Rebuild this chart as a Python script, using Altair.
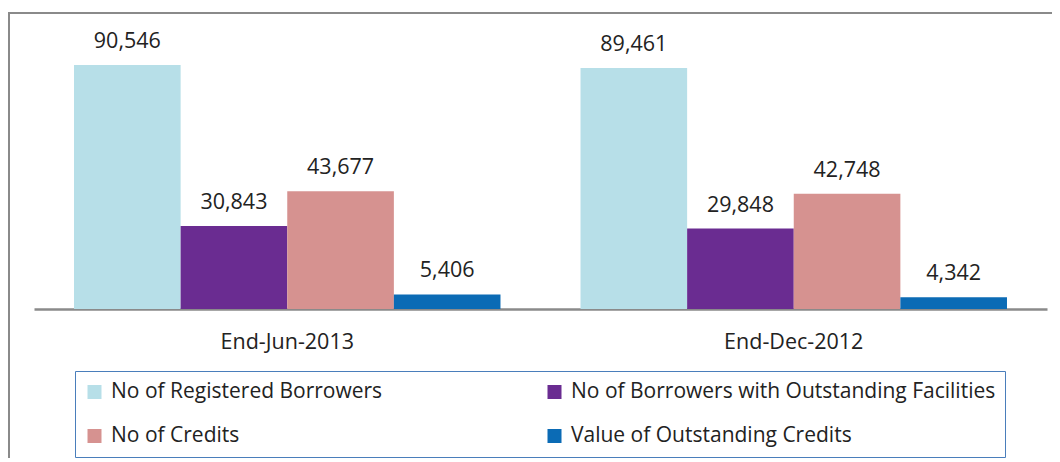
import altair as alt
import pandas as pd

periods = ["End-Jun-2013", "End-Dec-2012"]
series = [
    "No of Registered Borrowers",
    "No of Borrowers with Outstanding Facilities",
    "No of Credits",
    "Value of Outstanding Credits",
]
values_jun2013 = [90546, 30843, 43677, 5406]
values_dec2012 = [89461, 29848, 42748, 4342]
colors = ["#b7dfe8", "#6a2c91", "#d69290", "#0b6bb5"]

rows = []
for p, vals in zip(periods, [values_jun2013, values_dec2012]):
    for s, v in zip(series, vals):
        rows.append({"period": p, "series": s, "value": v})
df = pd.DataFrame(rows)

FONT = "Open Sans"
TXT = "#222222"
W, H = 1044, 445
BASE = 296

x_enc = alt.X(
    "period:N",
    sort=periods,
    scale=alt.Scale(range=[26, 1039], paddingInner=0.158, paddingOuter=0.079),
    axis=alt.Axis(
        title=None,
        offset=BASE - H,
        ticks=False,
        domainColor="#8a8a8a",
        domainWidth=2.5,
        labelFontSize=21.5,
        labelFont=FONT,
        labelColor=TXT,
        labelPadding=22,
        labelAngle=0,
    ),
)
y_enc = alt.Y(
    "value:Q",
    scale=alt.Scale(domain=[0, 100000], range=[BASE, 26.5]),
    axis=None,
)
xo = alt.XOffset(
    "series:N", sort=series, scale=alt.Scale(paddingInner=0, paddingOuter=0)
)

legend_order = [series[0], series[2], series[1], series[3]]

bars = alt.Chart(df).mark_bar().encode(
    x=x_enc,
    y=y_enc,
    xOffset=xo,
    color=alt.Color(
        "series:N",
        sort=series,
        scale=alt.Scale(domain=series, range=colors),
        legend=alt.Legend(
            title=None,
            values=legend_order,
            orient="none",
            legendX=67,
            legendY=358,
            columns=2,
            columnPadding=161,
            rowPadding=20,
            padding=9,
            clipHeight=24,
            strokeColor="#4a7ebb",
            symbolType="square",
            symbolSize=196,
            symbolStrokeWidth=0,
            labelFontSize=21,
            labelFont=FONT,
            labelColor=TXT,
            labelOffset=6,
            labelLimit=600,
        ),
    ),
)

labels = alt.Chart(df).mark_text(
    dy=-17, baseline="alphabetic", fontSize=21.5, font=FONT, color=TXT
).encode(
    x=alt.X("period:N", sort=periods),
    y=alt.Y("value:Q"),
    xOffset=alt.XOffset("series:N", sort=series),
    text=alt.Text("value:Q", format=","),
)

frame_top = alt.Chart(df).mark_rule(color="#8a8a8a", strokeWidth=2).encode(
    x=alt.value(0), x2=alt.value(W), y=alt.value(0)
)
frame_left = alt.Chart(df).mark_rule(color="#8a8a8a", strokeWidth=2).encode(
    x=alt.value(1), y=alt.value(0), y2=alt.value(H)
)

chart = (
    alt.layer(bars, labels, frame_top, frame_left)
    .properties(
        width=W,
        height=H,
        autosize=alt.AutoSizeParams(type="none"),
        padding={"left": 0, "top": 5, "right": 0, "bottom": 0},
    )
    .configure_view(stroke=None)
    .configure_legend(strokeWidth=2)
    .configure(background="white")
)

chart.save("out.html", embed_options={"renderer": "svg", "actions": False})
